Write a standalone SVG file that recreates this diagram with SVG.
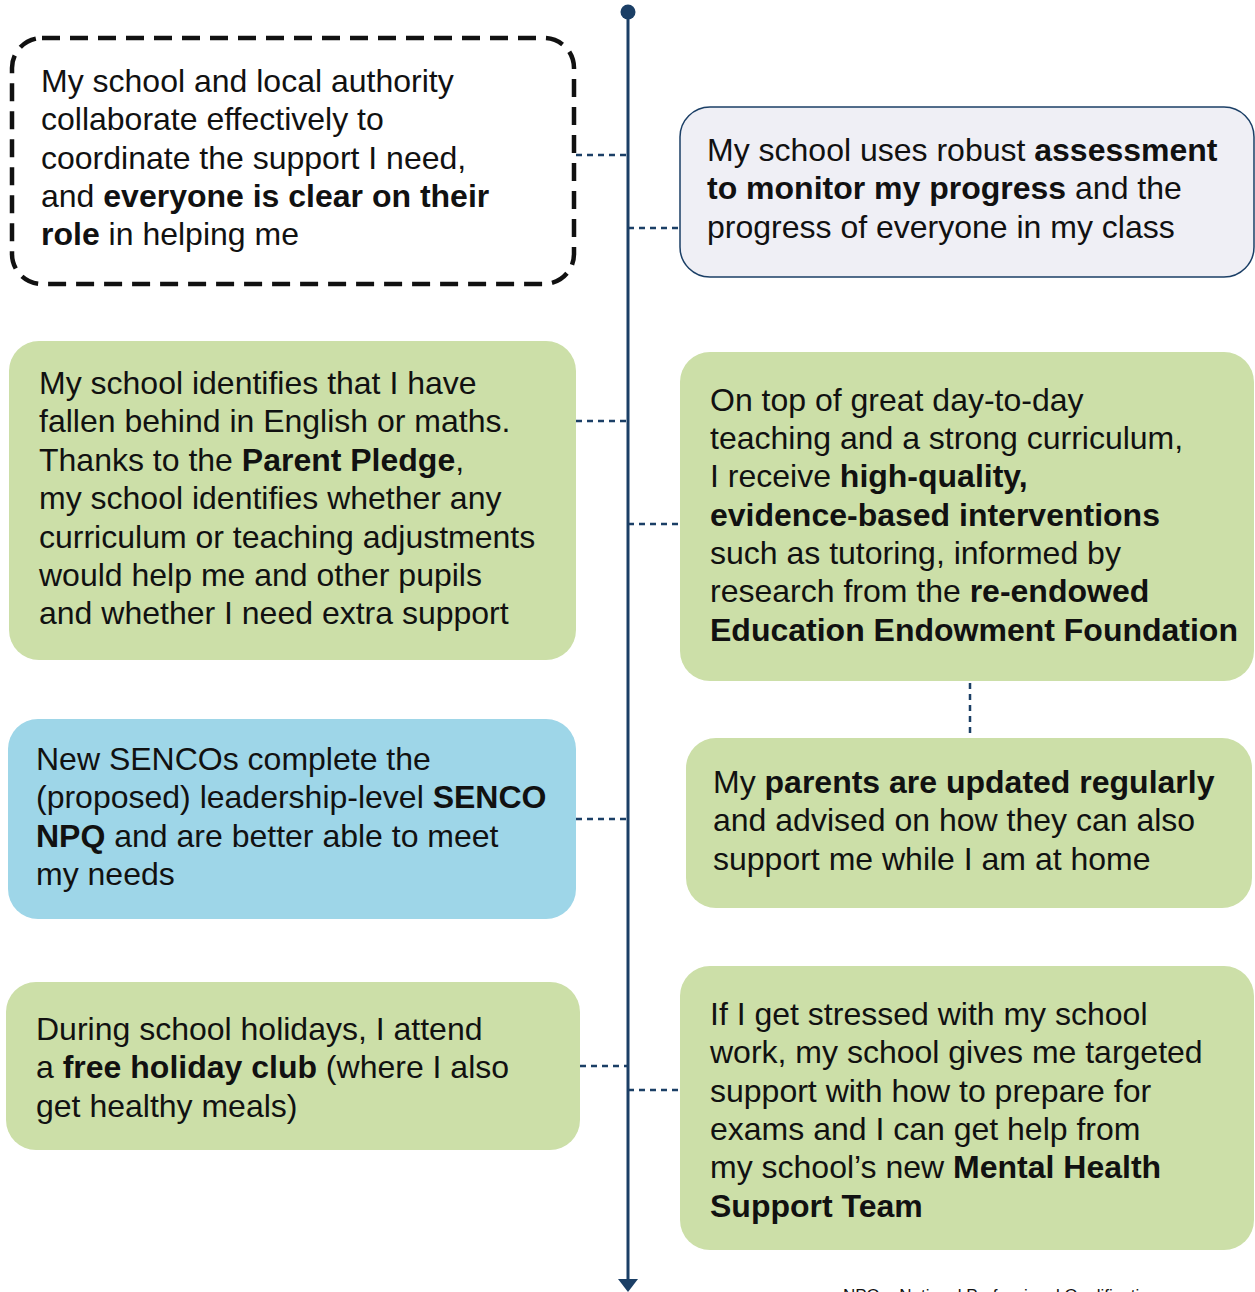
<svg xmlns="http://www.w3.org/2000/svg" width="1255" height="1292" viewBox="0 0 1255 1292">
<style>
text{font-family:"Liberation Sans",Arial,sans-serif;font-size:32px;fill:#111}
.b{font-weight:bold}
.green{fill:#CCDFA8}
.blue{fill:#9ED6E8}
.conn{stroke:#1B3F66;stroke-width:2.5;stroke-dasharray:6 5;fill:none}
.fn{font-size:17px}
</style>
<rect width="1255" height="1292" fill="#fff"/>
<g id="timeline">
<line x1="628" y1="12" x2="628" y2="1282" stroke="#1B3F66" stroke-width="3"/>
<circle cx="628" cy="12" r="7.5" fill="#1B3F66"/>
<polygon points="618,1279 638,1279 628,1292" fill="#1B3F66"/>
</g>
<g id="connectors">
<line class="conn" x1="576" y1="155" x2="628" y2="155"/>
<line class="conn" x1="628" y1="228" x2="680" y2="228"/>
<line class="conn" x1="576" y1="421" x2="628" y2="421"/>
<line class="conn" x1="628" y1="524" x2="680" y2="524"/>
<line class="conn" x1="970" y1="683" x2="970" y2="737"/>
<line class="conn" x1="576" y1="819" x2="628" y2="819"/>
<line class="conn" x1="580" y1="1066" x2="628" y2="1066"/>
<line class="conn" x1="628" y1="1090" x2="680" y2="1090"/>
</g>
<g id="node-collaborate">
<rect x="12" y="38" width="562" height="246" rx="30" fill="#fff" stroke="#111" stroke-width="4.5" stroke-dasharray="18 10"/>
<text x="41" y="92">My school and local authority</text>
<text x="41" y="130">collaborate effectively to</text>
<text x="41" y="169">coordinate the support I need,</text>
<text x="41" y="207">and <tspan class="b">everyone is clear on their</tspan></text>
<text x="41" y="245"><tspan class="b">role</tspan> in helping me</text>
</g>
<g id="node-assessment">
<rect x="680" y="107" width="574" height="170" rx="30" fill="#EFEFF5" stroke="#1B3F66" stroke-width="1.5"/>
<text x="707" y="161">My school uses robust <tspan class="b">assessment</tspan></text>
<text x="707" y="199"><tspan class="b">to monitor my progress</tspan> and the</text>
<text x="707" y="238">progress of everyone in my class</text>
</g>
<g id="node-identifies">
<rect class="green" x="9" y="341" width="567" height="319" rx="30"/>
<text x="39" y="394">My school identifies that I have</text>
<text x="39" y="432">fallen behind in English or maths.</text>
<text x="39" y="471">Thanks to the <tspan class="b">Parent Pledge</tspan>,</text>
<text x="39" y="509">my school identifies whether any</text>
<text x="39" y="548">curriculum or teaching adjustments</text>
<text x="39" y="586">would help me and other pupils</text>
<text x="39" y="624">and whether I need extra support</text>
</g>
<g id="node-interventions">
<rect class="green" x="680" y="352" width="574" height="329" rx="30"/>
<text x="710" y="411">On top of great day-to-day</text>
<text x="710" y="449">teaching and a strong curriculum,</text>
<text x="710" y="487">I receive <tspan class="b">high-quality,</tspan></text>
<text x="710" y="526" class="b">evidence-based interventions</text>
<text x="710" y="564">such as tutoring, informed by</text>
<text x="710" y="602">research from the <tspan class="b">re-endowed</tspan></text>
<text x="710" y="641" class="b">Education Endowment Foundation</text>
</g>
<g id="node-parents">
<rect class="green" x="686" y="738" width="566" height="170" rx="30"/>
<text x="713" y="793">My <tspan class="b">parents are updated regularly</tspan></text>
<text x="713" y="831">and advised on how they can also</text>
<text x="713" y="870">support me while I am at home</text>
</g>
<g id="node-senco">
<rect class="blue" x="8" y="719" width="568" height="200" rx="30"/>
<text x="36" y="770">New SENCOs complete the</text>
<text x="36" y="808">(proposed) leadership-level <tspan class="b">SENCO</tspan></text>
<text x="36" y="847"><tspan class="b">NPQ</tspan> and are better able to meet</text>
<text x="36" y="885">my needs</text>
</g>
<g id="node-holiday">
<rect class="green" x="6" y="982" width="574" height="168" rx="30"/>
<text x="36" y="1040">During school holidays, I attend</text>
<text x="36" y="1078">a <tspan class="b">free holiday club</tspan> (where I also</text>
<text x="36" y="1117">get healthy meals)</text>
</g>
<g id="node-stressed">
<rect class="green" x="680" y="966" width="574" height="284" rx="30"/>
<text x="710" y="1025">If I get stressed with my school</text>
<text x="710" y="1063">work, my school gives me targeted</text>
<text x="710" y="1102">support with how to prepare for</text>
<text x="710" y="1140">exams and I can get help from</text>
<text x="710" y="1178">my school’s new <tspan class="b">Mental Health</tspan></text>
<text x="710" y="1217" class="b">Support Team</text>
</g>
<text class="fn" x="843" y="1301">NPQ = National Professional Qualification</text>
</svg>
